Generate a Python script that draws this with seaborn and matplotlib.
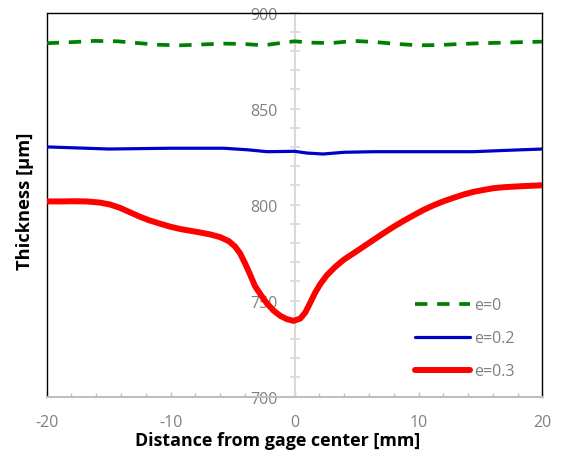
import numpy as np
import pandas as pd
import matplotlib
matplotlib.use('Agg')
import matplotlib.pyplot as plt
import seaborn as sns
from matplotlib.ticker import MultipleLocator

# e = 0 (dashed green)
x_e0 = [-20, -17.8, -16.2, -14.3, -12.7, -11.0, -9.2, -7.3, -5.7, -4.1, -2.5, -1.15, 0,
        1.3, 3.0, 4.8, 6.5, 8.3, 10, 11.8, 13.4, 15.1, 16.9, 18.6, 20]
y_e0 = [884.1, 884.7, 885.3, 885.1, 884.2, 883.3, 883.0, 883.5, 883.9, 883.7, 883.0, 884.2, 885.1,
        884.4, 884.2, 885.3, 884.7, 883.7, 883.0, 883.2, 883.7, 884.1, 884.4, 884.7, 884.9]

# e = 0.2 (blue)
x_e02 = [-20, -15, -10, -5.7, -3.8, -2.2, 0, 1.0, 2.3, 4.0, 6.4, 10.4, 14.4, 17.1, 20]
y_e02 = [830.1, 829.0, 829.4, 829.4, 828.6, 827.6, 827.8, 826.9, 826.4, 827.3, 827.6, 827.6, 827.6, 828.3, 829.0]

# e = 0.3 (red)
x_e03 = [-20.0, -18.9, -17.8, -16.8, -15.7, -14.9, -14.1, -13.3, -12.5, -11.7, -10.8, -10.0,
         -9.2, -8.4, -7.6, -6.8, -6.0, -5.3, -4.8, -4.4, -4.0, -3.6, -3.2, -2.77, -2.23,
         -1.69, -1.15, -0.62, -0.08, 0.46, 0.86, 1.27, 1.67, 2.07, 2.61, 3.28, 3.96, 4.76,
         5.57, 6.38, 7.19, 7.99, 8.80, 9.61, 10.41, 11.22, 12.03, 12.84, 13.64, 14.45,
         15.26, 16.06, 16.87, 17.41, 18.5, 20.0]
y_e03 = [801.7, 801.7, 801.8, 801.7, 801.1, 800.1, 798.4, 796.1, 793.8, 791.8, 790.0, 788.5,
         787.3, 786.4, 785.5, 784.5, 783.1, 781.0, 778.2, 774.7, 769.5, 763.8, 757.7, 753.5, 748.6,
         744.8, 742.1, 740.4, 739.5, 740.7, 743.8, 749.0, 754.3, 758.6, 763.3, 767.6, 771.3, 774.7,
         778.2, 781.7, 785.2, 788.5, 791.6, 794.5, 797.3, 799.7, 801.8, 803.6, 805.3, 806.7,
         807.7, 808.6, 809.1, 809.3, 809.7, 810.1]

labels = ['e=0', 'e=0.2', 'e=0.3']

sns.set_style('white')
plt.rcParams['font.family'] = ['Open Sans', 'DejaVu Sans']
plt.rcParams['axes.unicode_minus'] = False

fig = plt.figure(figsize=(5.63, 4.64), dpi=100)
ax = fig.add_axes([0.0829, 0.1429, 0.8806, 0.8276])

sns.lineplot(x=x_e0, y=y_e0, ax=ax, color='#008000', lw=2.7, sort=False, estimator=None,
             label=labels[0], zorder=3)
sns.lineplot(x=x_e02, y=y_e02, ax=ax, color='#0000C8', lw=2.3, sort=False, estimator=None,
             label=labels[1], zorder=3)
sns.lineplot(x=x_e03, y=y_e03, ax=ax, color='#FF0000', lw=4.3, sort=False, estimator=None,
             label=labels[2], zorder=3)
lines = ax.get_lines()
lines[0].set_dashes((3.3, 2.6))
for ln in lines:
    ln.set_solid_capstyle('round')
    ln.set_solid_joinstyle('round')
lines[0].set_dash_capstyle('butt')

ax.set_xlim(-20, 20)
ax.set_ylim(700, 900)

# y axis drawn through x = 0, box frame around the plot
ax.spines['left'].set_position(('data', 0))
ax.spines['left'].set_color('#D9D9D9')
ax.spines['left'].set_linewidth(1.5)
ax.spines['left'].set_zorder(1)
ax.spines['bottom'].set_color('#BFBFBF')
ax.spines['bottom'].set_linewidth(1.5)
for s in ['top', 'right']:
    ax.spines[s].set_color('black')
    ax.spines[s].set_linewidth(1.0)
ax.plot([0, 0], [0, 1], transform=ax.transAxes, color='black', lw=1.0, clip_on=False, zorder=2.5)

ax.yaxis.set_major_locator(MultipleLocator(50))
ax.yaxis.set_minor_locator(MultipleLocator(10))
ax.xaxis.set_major_locator(MultipleLocator(10))
ax.xaxis.set_minor_locator(MultipleLocator(2))

ax.tick_params(axis='y', which='major', direction='inout', length=7.7, width=1.2, color='#D9D9D9',
               labelsize=11.5, labelcolor='#808080', pad=8, left=True)
ax.tick_params(axis='y', which='minor', direction='inout', length=6.7, width=1.2, color='#D9D9D9', left=True)
ax.tick_params(axis='x', which='major', direction='in', length=3.3, width=1.0, color='#BFBFBF',
               labelsize=11.5, labelcolor='#808080', pad=12.5, bottom=True)
ax.tick_params(axis='x', which='minor', direction='in', length=3.0, width=1.0, color='#BFBFBF', bottom=True)

ax.set_xlabel('Distance from gage center [mm]', fontsize=12.9, fontweight='bold', color='black')
ax.set_ylabel('Thickness [μm]', fontsize=13.2, fontweight='bold', color='black')
ax.xaxis.set_label_coords(0.4665, -0.112)
ax.xaxis.label.set_va('center')
ax.yaxis.set_label_coords(-0.0438, 0.511)
ax.yaxis.label.set_va('center')

ax.legend(loc='center left', bbox_to_anchor=(0.743, 0.152), frameon=False, fontsize=11.5,
          labelcolor='#7F7F7F', handlelength=3.44, handletextpad=0.25, labelspacing=1.06,
          borderpad=0, borderaxespad=0)

fig.savefig('out.png', dpi=100)
